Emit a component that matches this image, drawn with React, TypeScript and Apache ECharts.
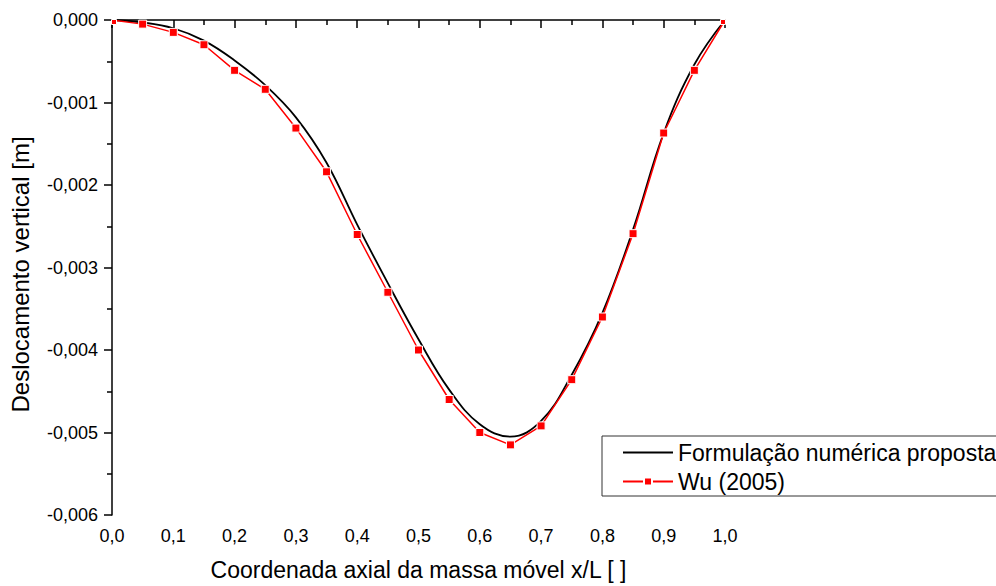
import React, { useEffect, useRef } from "react";
import * as echarts from "echarts";

// Position along the beam (x/L)
const xValues = [0, 0.05, 0.1, 0.15, 0.2, 0.25, 0.3, 0.35, 0.4, 0.45, 0.5, 0.55, 0.6, 0.65, 0.7, 0.75, 0.8, 0.85, 0.9, 0.95, 1.0];

// Vertical displacement [m] from the proposed numerical formulation
const numericValues = [0, -0.00003, -0.0001, -0.00025, -0.00049, -0.00079, -0.00118, -0.00173, -0.00248, -0.00319, -0.00387, -0.00448, -0.0049, -0.00505, -0.00486, -0.0043, -0.00355, -0.00254, -0.00137, -0.00054, 0];

// Vertical displacement [m] reported by Wu (2005)
const wuValues = [0, -0.00005, -0.00015, -0.0003, -0.00061, -0.00084, -0.00131, -0.00184, -0.0026, -0.0033, -0.004, -0.0046, -0.005, -0.00515, -0.00492, -0.00436, -0.0036, -0.00259, -0.00137, -0.00061, 0];

const seriesNames = ["Formulação numérica proposta", "Wu (2005)"];
const xAxisTitle = "Coordenada axial da massa móvel x/L [ ]";
const yAxisTitle = "Deslocamento vertical [m]";

const FONT = "Arial, 'Liberation Sans', sans-serif";

export default function App() {
  const ref = useRef<HTMLDivElement>(null);

  useEffect(() => {
    document.body.style.margin = "0";
    if (!ref.current) return;
    const chart = echarts.init(ref.current, null, { renderer: "svg" });

    const numericData = xValues.map((x, i) => [x, numericValues[i]]);
    const wuData = xValues.map((x, i) => {
      const item: any = { value: [x, wuValues[i]] };
      // markers sitting on the frame edge are cut by the plot area
      if (i === 0) {
        item.symbolSize = 5;
        item.symbolOffset = [2, 2];
      } else if (i === xValues.length - 1) {
        item.symbolSize = 5;
        item.symbolOffset = [-2, 2];
      }
      return item;
    });

    chart.setOption({
      animation: false,
      backgroundColor: "#ffffff",
      textStyle: { fontFamily: FONT, color: "#000" },
      grid: { left: 112, top: 20, width: 613, height: 496 },
      legend: {
        orient: "vertical",
        left: 602,
        top: 436,
        padding: [5, 6, 3, 20],
        itemGap: 6,
        itemWidth: 50,
        itemHeight: 10,
        borderColor: "#333",
        borderWidth: 1,
        borderRadius: 0,
        textStyle: { fontFamily: FONT, fontSize: 23, color: "#000" },
        data: [
          { name: seriesNames[0], itemStyle: { opacity: 0 } },
          { name: seriesNames[1] },
        ],
      },
      xAxis: {
        type: "value",
        min: 0,
        max: 1,
        interval: 0.1,
        name: xAxisTitle,
        nameLocation: "middle",
        nameGap: 43,
        nameTextStyle: { fontFamily: FONT, fontSize: 23, color: "#000" },
        axisLine: { show: true, lineStyle: { color: "#000", width: 1.5 } },
        axisTick: { show: true, inside: false, length: 8, lineStyle: { color: "#000", width: 1.5 } },
        minorTick: { show: true, splitNumber: 2, length: 5, lineStyle: { color: "#000", width: 1.5 } },
        splitLine: { show: false },
        axisLabel: {
          margin: 12,
          fontFamily: FONT,
          fontSize: 18,
          color: "#000",
          formatter: (v: number) => v.toFixed(1).replace(".", ","),
        },
      },
      yAxis: {
        type: "value",
        min: -0.006,
        max: 0,
        interval: 0.001,
        name: yAxisTitle,
        nameLocation: "middle",
        nameGap: 80,
        nameTextStyle: { fontFamily: FONT, fontSize: 24, color: "#000", padding: [0, 14, 0, 0] },
        axisLine: { show: true, lineStyle: { color: "#000", width: 1.5 } },
        axisTick: { show: true, inside: false, length: 8, lineStyle: { color: "#000", width: 1.5 } },
        minorTick: { show: true, splitNumber: 2, length: 5, lineStyle: { color: "#000", width: 1.5 } },
        splitLine: { show: false },
        axisLabel: {
          margin: 14,
          fontFamily: FONT,
          fontSize: 18,
          color: "#000",
          formatter: (v: number) => v.toFixed(3).replace(".", ","),
        },
      },
      series: [
        {
          name: seriesNames[0],
          type: "line",
          data: numericData,
          smooth: 0.4,
          showSymbol: false,
          symbol: "none",
          lineStyle: { color: "#000", width: 1.8 },
          itemStyle: { color: "#000" },
          z: 2,
        },
        {
          name: seriesNames[1],
          type: "line",
          data: wuData,
          symbol: "rect",
          symbolSize: 8,
          lineStyle: { color: "#ff0000", width: 1.5 },
          itemStyle: { color: "#ff0000", borderColor: "#fff", borderWidth: 1 },
          z: 3,
        },
      ],
    });

    return () => chart.dispose();
  }, []);

  return <div ref={ref} style={{ position: "absolute", left: 0, top: 0, width: 996, height: 586 }} />;
}
